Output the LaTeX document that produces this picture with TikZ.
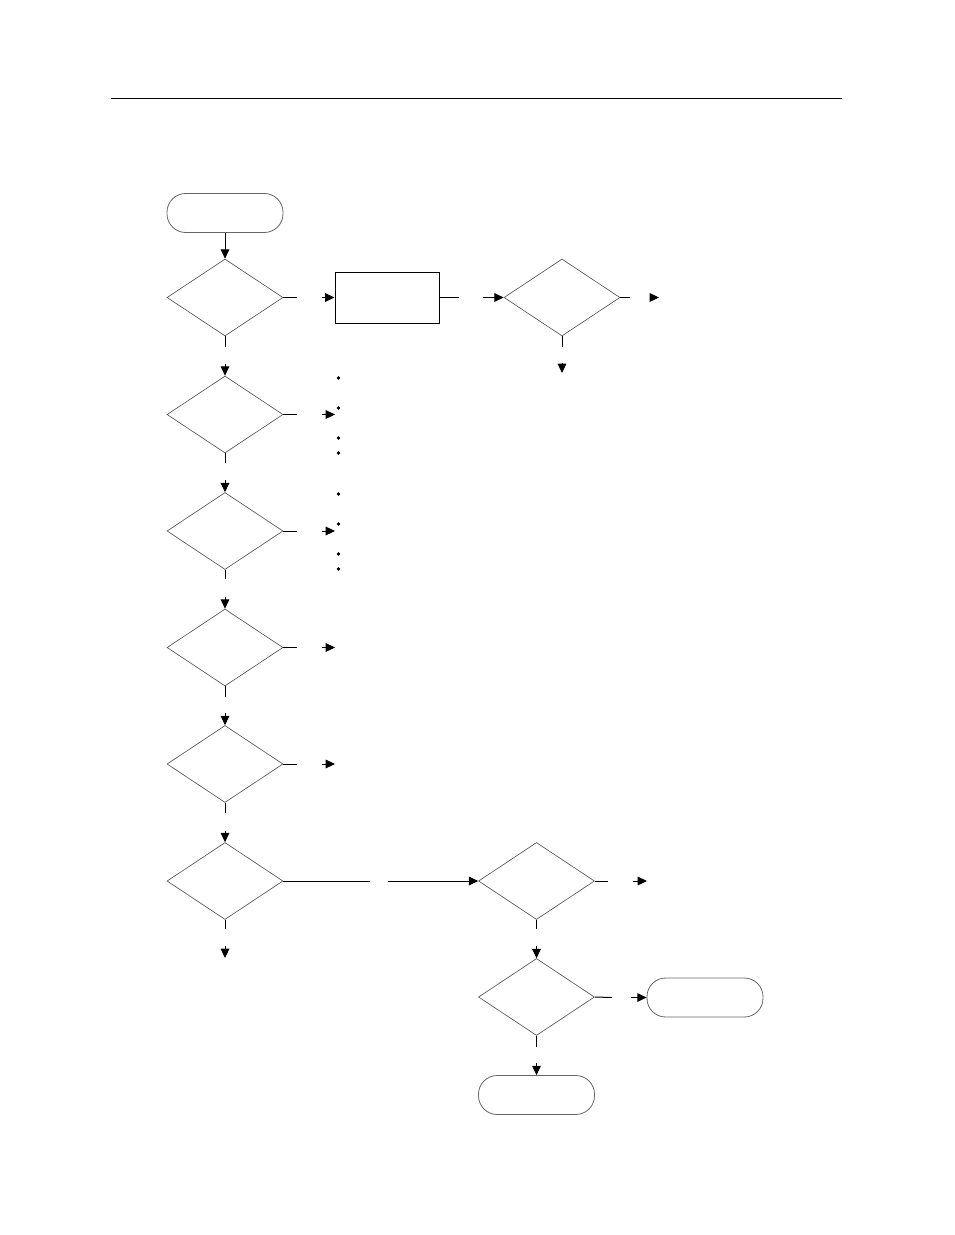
\documentclass[tikz,border=0pt]{standalone}
\usetikzlibrary{shapes.geometric,arrows.meta}
\begin{document}
\begin{tikzpicture}[x=0.75pt,y=-0.75pt,
  dec/.style={diamond,draw=black!65,line width=0.5pt,minimum width=87pt,minimum height=57.75pt,inner sep=0pt},
  term/.style={rectangle,rounded corners=14pt,draw=black!60,line width=0.6pt,minimum width=87pt,minimum height=29.25pt,inner sep=0pt},
  proc/.style={rectangle,draw=black,line width=0.75pt,minimum width=78pt,minimum height=38.25pt,inner sep=0pt},
  conn/.style={draw=black,line width=0.75pt},
  arr/.style={conn,-{Triangle[length=7pt,width=6.5pt]}},
  dot/.style={circle,fill=black,inner sep=0pt,minimum size=2.7pt}]
\useasboundingbox (0,0) rectangle (954,1235);
% top rule
\coordinate (ruleL) at (111,98);
\coordinate (ruleR) at (842,98);
\draw[line width=0.75pt] (ruleL) -- (ruleR);
% nodes
\node[term] (t1) at (225,213) {};
\node[dec] (d1) at (225,297.5) {};
\node[proc] (r1) at (387,297.5) {};
\node[dec] (d2) at (562,297.5) {};
\node[dec] (d3) at (225,414.5) {};
\node[dec] (d4) at (225,531) {};
\node[dec] (d5) at (225,647.5) {};
\node[dec] (d6) at (225,764) {};
\node[dec] (d7) at (225,881) {};
\node[dec] (d8) at (536.5,881) {};
\node[dec] (d9) at (536.5,997) {};
\node[term] (t2) at (705,997.5) {};
\node[term] (t3) at (536.5,1095) {};
% bullets
\foreach \y [count=\i] in {378,408,438,453,494,524,554,569}
  \node[dot] (b\i) at (338.5,\y) {};
% gap coordinates
\coordinate (g1a) at (297,297.5);  \coordinate (g1b) at (322,297.5);
\coordinate (g2a) at (459,297.5);  \coordinate (g2b) at (483,297.5);
\coordinate (g3a) at (630,297.5);  \coordinate (g3b) at (650,297.5); \coordinate (g3c) at (659,297.5);
\coordinate (g4a) at (562,347);    \coordinate (g4b) at (562,363);   \coordinate (g4c) at (562,373);
\coordinate (v1a) at (225,347);    \coordinate (v1b) at (225,364);
\coordinate (h3a) at (297,414.5);  \coordinate (h3b) at (322,414.5); \coordinate (h3c) at (335,414.5);
\coordinate (v3a) at (225,463);    \coordinate (v3b) at (225,480);
\coordinate (h4a) at (297,531);    \coordinate (h4b) at (322,531);   \coordinate (h4c) at (335,531);
\coordinate (v4a) at (225,579);    \coordinate (v4b) at (225,597);
\coordinate (h5a) at (297,647.5);  \coordinate (h5b) at (322,647.5); \coordinate (h5c) at (335,647.5);
\coordinate (v5a) at (225,697);    \coordinate (v5b) at (225,713);
\coordinate (h6a) at (297,764);    \coordinate (h6b) at (322,764);   \coordinate (h6c) at (335,764);
\coordinate (v6a) at (225,813);    \coordinate (v6b) at (225,831);
\coordinate (h7a) at (370,881);    \coordinate (h7b) at (388,881);
\coordinate (v7a) at (225,929);    \coordinate (v7b) at (225,946);   \coordinate (v7c) at (225,958);
\coordinate (h8a) at (608,881);    \coordinate (h8b) at (633,881);   \coordinate (h8c) at (647,881);
\coordinate (v8a) at (536.5,929);  \coordinate (v8b) at (536.5,946);
\coordinate (h9a) at (612,997.5);  \coordinate (h9b) at (631,997.5);
\coordinate (v9a) at (536.5,1047); \coordinate (v9b) at (536.5,1063);
% connectors
\draw[arr] (t1.south) -- (d1.north);
\draw[conn] (d1.east) -- (g1a); \draw[arr] (g1b) -- (r1.west);
\draw[conn] (r1.east) -- (g2a); \draw[arr] (g2b) -- (d2.west);
\draw[conn] (d2.east) -- (g3a); \draw[arr] (g3b) -- (g3c);
\draw[conn] (d2.south) -- (g4a); \draw[arr] (g4b) -- (g4c);
\draw[conn] (d1.south) -- (v1a); \draw[arr] (v1b) -- (d3.north);
\draw[conn] (d3.east) -- (h3a); \draw[arr] (h3b) -- (h3c);
\draw[conn] (d3.south) -- (v3a); \draw[arr] (v3b) -- (d4.north);
\draw[conn] (d4.east) -- (h4a); \draw[arr] (h4b) -- (h4c);
\draw[conn] (d4.south) -- (v4a); \draw[arr] (v4b) -- (d5.north);
\draw[conn] (d5.east) -- (h5a); \draw[arr] (h5b) -- (h5c);
\draw[conn] (d5.south) -- (v5a); \draw[arr] (v5b) -- (d6.north);
\draw[conn] (d6.east) -- (h6a); \draw[arr] (h6b) -- (h6c);
\draw[conn] (d6.south) -- (v6a); \draw[arr] (v6b) -- (d7.north);
\draw[conn] (d7.east) -- (h7a); \draw[arr] (h7b) -- (d8.west);
\draw[conn] (d7.south) -- (v7a); \draw[arr] (v7b) -- (v7c);
\draw[conn] (d8.east) -- (h8a); \draw[arr] (h8b) -- (h8c);
\draw[conn] (d8.south) -- (v8a); \draw[arr] (v8b) -- (d9.north);
\draw[conn] (d9.east) -- (h9a); \draw[arr] (h9b) -- (t2.west);
\draw[conn] (d9.south) -- (v9a); \draw[arr] (v9b) -- (t3.north);
\end{tikzpicture}
\end{document}
